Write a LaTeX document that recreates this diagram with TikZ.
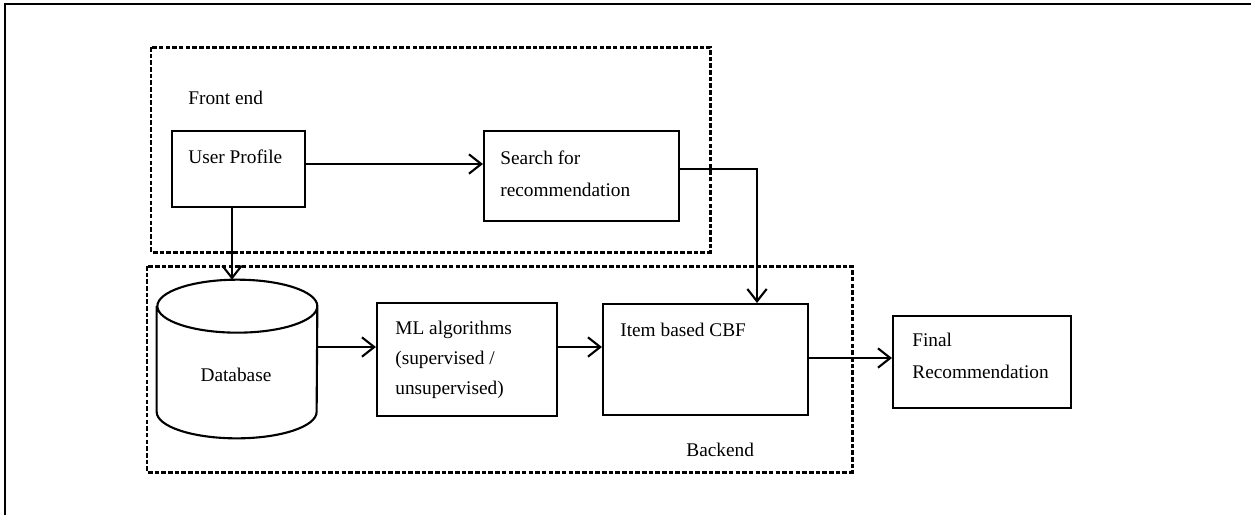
\documentclass[tikz,border=0pt]{standalone}
\usepackage{fontspec}
\setmainfont{Liberation Serif}
\usetikzlibrary{arrows.meta, positioning, shapes.geometric}
\tikzset{
    box/.style={draw, rectangle, line width=1.2pt, inner sep=0pt},
    lbl/.style={font=\fontsize{11}{17}\selectfont, inner sep=0pt, align=left},
    zone/.style={line width=1.7pt, dash pattern=on 2.6pt off 1.2pt},
    flow/.style={line width=1.2pt, -{Straight Barb[length=7pt, width=11pt, line width=1.2pt]}},
}
\begin{document}
\begin{tikzpicture}[x=0.02cm, y=-0.02cm]
    \useasboundingbox (0,0) rectangle (1251,515);
    % outer frame
    \draw[line width=1.6pt] (5,515) -- (5,4) -- (1251,4);
    % front end / backend zones
    \draw[zone] (151,47) rectangle (710,252);
    \draw[zone] (147,266) rectangle (852,472);
    \node[lbl, anchor=west] (frontlbl) at (188,98) {Front end};
    \node[lbl, anchor=west] (backlbl) at (686,450) {Backend};

    \node[box, minimum width=2.66cm, minimum height=1.52cm] (user) at (238.5,169) {};
    \node[box, minimum width=3.9cm, minimum height=1.8cm] (search) at (581.5,176) {};
    \node[inner sep=0pt, minimum width=3.2cm, minimum height=3.16cm] (db) at (237,359) {};
    \node[box, minimum width=3.6cm, minimum height=2.26cm] (ml) at (467,359.5) {};
    \node[box, minimum width=4.1cm, minimum height=2.22cm] (item) at (705.5,359.5) {};
    \node[box, minimum width=3.56cm, minimum height=1.84cm] (final) at (982,362) {};

    % database drum
    \draw[line width=1.2pt] ([yshift=-0.53cm]db.north west) -- ([yshift=0.53cm]db.south west)
        arc[start angle=180, end angle=360, x radius=1.6cm, y radius=0.53cm]
        -- ([yshift=-0.53cm]db.north east)
        arc[start angle=0, end angle=360, x radius=1.6cm, y radius=0.53cm];

    \node[lbl, anchor=west] (userlbl) at (188,157) {User Profile};
    \node[lbl, anchor=west, font=\fontsize{11}{18}\selectfont] (searchlbl) at (500,174) {Search for\\recommendation};
    \node[lbl] (dblbl) at (236,375) {Database};
    \node[lbl, anchor=west] (mllbl) at (395,360) {ML algorithms\\(supervised /\\unsupervised)};
    \node[lbl, anchor=west] (itemlbl) at (620,330) {Item based CBF};
    \node[lbl, anchor=west, font=\fontsize{11}{18}\selectfont] (finallbl) at (912,356) {Final\\Recommendation};

    \coordinate (ua) at (0,164);
    \coordinate (ud) at (232,0);
    \coordinate (dm) at (0,347);
    \coordinate (fr) at (0,358);
    \coordinate (turn) at (757,169);
    \draw[flow] (user.east |- ua) -- (search.west |- ua);
    \draw[flow] (user.south -| ud) -- (db.north -| ud);
    \draw[flow] (db.east |- dm) -- (ml.west |- dm);
    \draw[flow] (ml.east |- dm) -- (item.west |- dm);
    \draw[flow, line width=0.8pt] (search.east |- turn) -| (item.north -| turn);
    \draw[flow] (item.east |- fr) -- (final.west |- fr);
\end{tikzpicture}
\end{document}
